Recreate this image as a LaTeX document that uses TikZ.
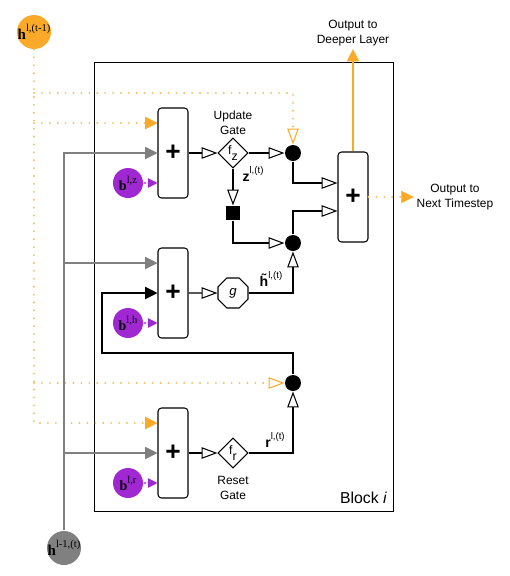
\documentclass[tikz,border=0pt]{standalone}
\usepackage{fontspec}
\setmainfont{Liberation Sans}
\newfontfamily\serifface{Liberation Serif}
\usetikzlibrary{arrows.meta,shapes.geometric}

\definecolor{hcol}{RGB}{250,170,40}
\definecolor{hdot}{RGB}{242,192,90}
\definecolor{xcol}{RGB}{128,128,128}
\definecolor{bcol}{RGB}{160,40,210}

% small raised index
\newcommand\upidx[2]{\raisebox{0.5em}{\fontsize{#1}{#1}\selectfont #2}}

\tikzset{
  adder/.style={draw, rounded corners=2pt, minimum width=0.6cm, minimum height=1.8cm,
    inner sep=0pt, font=\fontsize{15}{15}\selectfont\bfseries},
  gate/.style={draw, diamond, minimum width=0.6cm, minimum height=0.6cm, inner sep=0pt,
    font=\fontsize{7}{7}\selectfont},
  octa/.style={draw, regular polygon, regular polygon sides=8, minimum size=0.65cm,
    inner sep=0pt, font=\fontsize{7.5}{7.5}\selectfont\itshape},
  mult/.style={circle, fill=black, minimum size=0.32cm, inner sep=0pt},
  sqbox/.style={fill=black, minimum size=0.28cm, inner sep=0pt},
  hin/.style={circle, fill=hcol, minimum size=0.68cm, inner sep=0pt},
  bias/.style={circle, fill=bcol, minimum size=0.6cm, inner sep=0pt},
  lbl/.style={align=center, inner sep=1.5pt},
  oarr/.style={-{Triangle[open,length=9pt,width=6.5pt,line width=0.6pt]}},
  karr/.style={-{Triangle[length=7pt,width=7pt]}},
  xline/.style={xcol, -{Triangle[length=7pt,width=7pt]}},
  bline/.style={bcol, dashed, dash pattern=on 1.5pt off 1pt,
    -{Triangle[length=5.5pt,width=5.5pt]}},
  hdotline/.style={hdot, line width=1.2pt, line cap=round, dash pattern=on 0pt off 4.5pt},
  hfill/.style={-{Triangle[length=7pt,width=7pt,color=hcol,fill=hcol,line width=0.4pt]}},
  hopen/.style={-{Triangle[open,length=9pt,width=6.5pt,color=hcol,line width=0.6pt]}}
}

\begin{document}
\begin{tikzpicture}[x=0.02cm, y=-0.02cm, line width=0.6pt,
    font=\fontsize{6.8}{8.5}\selectfont]
  \useasboundingbox (0,0) rectangle (510,576);

  % block frame
  \node[draw, minimum width=6cm, minimum height=9cm, inner sep=0pt] (block) at (244,287) {};
  \node[anchor=south east, inner sep=0pt, font=\fontsize{9}{9}\selectfont]
    (blocklbl) at ([xshift=-0.14cm, yshift=0.16cm]block.south east) {Block \textit{i}};

  % inputs
  \node[hin] (hp) at (34,32) {};
  \node[font=\serifface] at (hp) {\fontsize{8.5}{8.5}\selectfont\textbf{h}\upidx{6}{l,(t-1)}};
  \node[hin, fill=xcol] (hl) at (64,548) {};
  \node[font=\serifface] at (hl) {\fontsize{8.5}{8.5}\selectfont\textbf{h}\upidx{6}{l-1,(t)}};

  % adders
  \node[adder] (addz) at (173,153) {+};
  \node[adder] (addh) at (173,293) {+};
  \node[adder] (addr) at (173,453) {+};
  \node[adder] (addo) at (353,197) {+};

  % biases
  \node[bias] (bz) at (128,183) {};
  \node[font=\serifface] at (bz) {\fontsize{8}{8}\selectfont\textbf{b}\upidx{6}{l,z}};
  \node[bias] (bh) at (128,323) {};
  \node[font=\serifface] at (bh) {\fontsize{8}{8}\selectfont\textbf{b}\upidx{6}{l,h}};
  \node[bias] (br) at (128,483) {};
  \node[font=\serifface] at (br) {\fontsize{8}{8}\selectfont\textbf{b}\upidx{6}{l,r}};

  % gates
  \node[gate] (fz) at (233,153) {f\raisebox{-0.45em}{z}};
  \node[gate] (fr) at (233,453) {f\raisebox{-0.45em}{r}};
  \node[octa] (g) at (233,293) {g};
  \node[sqbox] (sq) at (233,213) {};
  \node[mult] (multz) at (293,153) {};
  \node[mult] (multh) at (293,243) {};
  \node[mult] (multr) at (293,383) {};

  % labels
  \node[lbl] (ugate) at (233,123) {Update\\Gate};
  \node[lbl] (rgate) at (233,488) {Reset\\Gate};
  \node (zlab) at (253,174) {\fontsize{8}{8}\selectfont\textbf{z}\upidx{5.5}{l,(t)}};
  \node (htlab) at (271,279) {\fontsize{8}{8}\selectfont\textbf{\~{h}}\upidx{5.5}{l,(t)}};
  \node (rlab) at (275,440) {\fontsize{8}{8}\selectfont\textbf{r}\upidx{5.5}{l,(t)}};
  \node[lbl] (deep) at (353,33) {Output to\\Deeper Layer};
  \node[lbl] (next) at (455,197) {Output to\\Next Timestep};

  % ports
  \coordinate (zi) at ([yshift=0.6cm]addz.west);
  \coordinate (zb) at ([yshift=-0.6cm]addz.west);
  \coordinate (hi) at ([yshift=0.6cm]addh.west);
  \coordinate (hb) at ([yshift=-0.6cm]addh.west);
  \coordinate (ri) at ([yshift=0.6cm]addr.west);
  \coordinate (rb) at ([yshift=-0.6cm]addr.west);
  \coordinate (oa) at ([yshift=0.28cm]addo.west);
  \coordinate (ob) at ([yshift=-0.28cm]addo.west);
  \coordinate (ztop) at (multz.north |- 0,93);
  \coordinate (loop) at (102,353);

  % previous hidden state
  \draw[hdotline, hfill] (hp.south) |- (ri);
  \draw[hdotline, hfill] (hp.south |- zi) -- (zi);
  \draw[hdotline, hopen] (hp.south |- ztop) -- (ztop) -- (multz.north);
  \draw[hdotline, hopen] (hp.south |- multr.west) -- (multr.west);

  % lower layer
  \draw[xline] (hl.north) |- (addz.west);
  \draw[xline] (hl.north |- hi) -- (hi);
  \draw[xline] (hl.north |- addr.west) -- (addr.west);

  % biases
  \draw[bline] (bz) -- (zb);
  \draw[bline] (bh) -- (hb);
  \draw[bline] (br) -- (rb);

  % update gate
  \draw[oarr] (addz.east) -- (fz.west);
  \draw[oarr] (fz.east) -- (multz.west);
  \draw[oarr] (fz.south) -- (sq.north);
  \draw[oarr] (sq.south) |- (multh.west);
  \draw[oarr] (multz.south) |- (oa);
  \draw[oarr] (multh.north) |- (ob);

  % candidate
  \draw[oarr] (addh.east) -- (g.west);
  \draw[oarr] (g.east) -| (multh.south);

  % reset gate
  \draw[oarr] (addr.east) -- (fr.west);
  \draw[oarr] (fr.east) -| (multr.south);
  \draw[karr] (multr.north) |- (loop) |- (addh.west);

  % outputs
  \draw[hcol, line width=0.8pt, hfill] (addo.north) -- (deep.south);
  \draw[hdotline, hfill] (addo.east) -- (next.west);
\end{tikzpicture}
\end{document}
